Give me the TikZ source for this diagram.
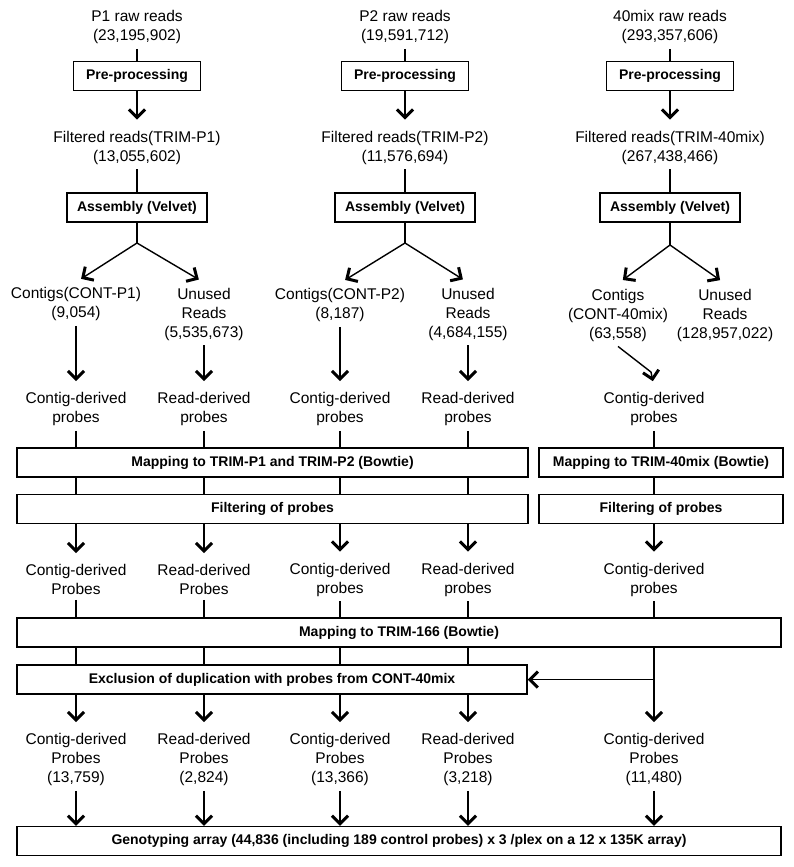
\documentclass[tikz,border=0pt]{standalone}
\usepackage{fontspec}
\setmainfont{Liberation Sans}
\usetikzlibrary{arrows.meta}

\begin{document}
\begin{tikzpicture}[x=1pt, y=-1pt,
    txt/.style={align=center, inner xsep=2pt, inner ysep=5pt, font=\fontsize{15.5}{19}\selectfont},
    stage/.style={draw, line width=1.5pt, inner sep=0pt, minimum height=29pt, font=\fontsize{14}{16}\selectfont\bfseries},
    link/.style={line width=1.4pt},
    arr/.style={link, -{Straight Barb[length=8pt, width=16pt, line width=3pt]}},
    into/.style={arr, shorten >=6pt}]
    \useasboundingbox (0,0) rectangle (793,867);

    \node[txt] (raw1) at (137,27) {P1 raw reads\\(23,195,902)};
    \node[txt] (raw2) at (405,27) {P2 raw reads\\(19,591,712)};
    \node[txt] (raw3) at (670,27) {40mix raw reads\\(293,357,606)};
    \node[stage, minimum width=127pt] (pre1) at (137,76) {Pre-processing};
    \node[stage, minimum width=127pt] (pre2) at (405,76) {Pre-processing};
    \node[stage, minimum width=127pt] (pre3) at (670,76) {Pre-processing};
    \node[txt] (flt1) at (137,147.5) {Filtered reads(TRIM-P1)\\(13,055,602)};
    \node[txt] (flt2) at (405,147.5) {Filtered reads(TRIM-P2)\\(11,576,694)};
    \node[txt] (flt3) at (670,147.5) {Filtered reads(TRIM-40mix)\\(267,438,466)};
    \node[stage, minimum width=140pt] (asm1) at (137,207.5) {Assembly (Velvet)};
    \node[stage, minimum width=140pt] (asm2) at (405,207.5) {Assembly (Velvet)};
    \node[stage, minimum width=140pt] (asm3) at (670,207.5) {Assembly (Velvet)};
    \coordinate (b1) at (137,243);
    \coordinate (b2) at (405,243);
    \coordinate (b3) at (670,245);
    \node[txt] (con1) at (76,304) {Contigs(CONT-P1)\\(9,054)};
    \node[txt] (unu1) at (204,314) {Unused\\Reads\\(5,535,673)};
    \node[txt] (con2) at (340,305) {Contigs(CONT-P2)\\(8,187)};
    \node[txt] (unu2) at (468,314) {Unused\\Reads\\(4,684,155)};
    \node[txt] (con3) at (618,315) {Contigs\\(CONT-40mix)\\(63,558)};
    \node[txt] (unu3) at (725,315) {Unused\\Reads\\(128,957,022)};

    \node[txt] (prA) at (76,409) {Contig-derived\\probes};
    \node[txt] (prB) at (204,409) {Read-derived\\probes};
    \node[txt] (prC) at (340,409) {Contig-derived\\probes};
    \node[txt] (prD) at (468,409) {Read-derived\\probes};
    \node[txt] (prE) at (654,409) {Contig-derived\\probes};
    \node[stage, minimum width=511pt] (map1) at (272.5,462.5) {Mapping to TRIM-P1 and TRIM-P2 (Bowtie)};
    \node[stage, minimum width=244pt] (map2) at (661,462.5) {Mapping to TRIM-40mix (Bowtie)};
    \node[stage, minimum width=511pt] (fil1) at (272.5,509) {Filtering of probes};
    \node[stage, minimum width=244pt] (fil2) at (661,509) {Filtering of probes};
    \node[txt] (qA) at (76,579.5) {Contig-derived\\Probes};
    \node[txt] (qB) at (204,579.5) {Read-derived\\Probes};
    \node[txt] (qC) at (340,579.5) {Contig-derived\\probes};
    \node[txt] (qD) at (468,579.5) {Read-derived\\probes};
    \node[txt] (qE) at (654,579.5) {Contig-derived\\probes};
    \node[stage, minimum width=764pt] (map3) at (399,632.5) {Mapping to TRIM-166 (Bowtie)};
    \node[stage, minimum width=510pt] (excl) at (272,679.5) {Exclusion of duplication with probes from CONT-40mix};
    \node[txt] (rA) at (76,759.5) {Contig-derived\\Probes\\(13,759)};
    \node[txt] (rB) at (204,759.5) {Read-derived\\Probes\\(2,824)};
    \node[txt] (rC) at (340,759.5) {Contig-derived\\Probes\\(13,366)};
    \node[txt] (rD) at (468,759.5) {Read-derived\\Probes\\(3,218)};
    \node[txt] (rE) at (654,759.5) {Contig-derived\\Probes\\(11,480)};
    \node[stage, minimum width=764pt] (geno) at (399,841) {Genotyping array (44,836 (including 189 control probes) x 3 /plex on a 12 x 135K array)};

    \foreach \c in {1,2,3} {
        \draw[link] (raw\c.south) -- (pre\c.north);
        \draw[into] (pre\c.south) -- (flt\c.north);
        \draw[link] (flt\c.south) -- (asm\c.north);
        \draw[link] (asm\c.south) -- (b\c);
        \draw[into] (b\c) -- (con\c.north);
        \draw[into] (b\c) -- (unu\c.north);
    }
    \draw[into] (con1.south) -- (prA.north);
    \draw[into] (unu1.south) -- (prB.north);
    \draw[into] (con2.south) -- (prC.north);
    \draw[into] (unu2.south) -- (prD.north);
    \draw[into] (con3.south) -- ([shift={(-3,-15)}]prE.north) -- (prE.north);

    \foreach \p in {A,B,C,D} {
        \draw[link] (pr\p.south) -- (pr\p.south |- map1.north);
        \draw[link] (pr\p |- map1.south) -- (pr\p |- fil1.north);
        \draw[into] (pr\p |- fil1.south) -- (q\p.north);
        \draw[link] (q\p |- map3.south) -- (q\p |- excl.north);
        \draw[into] (q\p |- excl.south) -- (r\p.north);
    }
    \draw[link] (prE.south) -- (prE.south |- map2.north);
    \draw[link] (prE |- map2.south) -- (prE |- fil2.north);
    \draw[into] (prE |- fil2.south) -- (qE.north);
    \draw[into] (qE |- map3.south) -- (rE.north);
    \draw[arr] (qE |- excl.east) -- (excl.east);
    \foreach \p in {A,B,C,D,E} {
        \draw[link] (q\p.south) -- (q\p.south |- map3.north);
        \draw[arr] (r\p.south) -- (r\p.south |- geno.north);
    }
\end{tikzpicture}
\end{document}
